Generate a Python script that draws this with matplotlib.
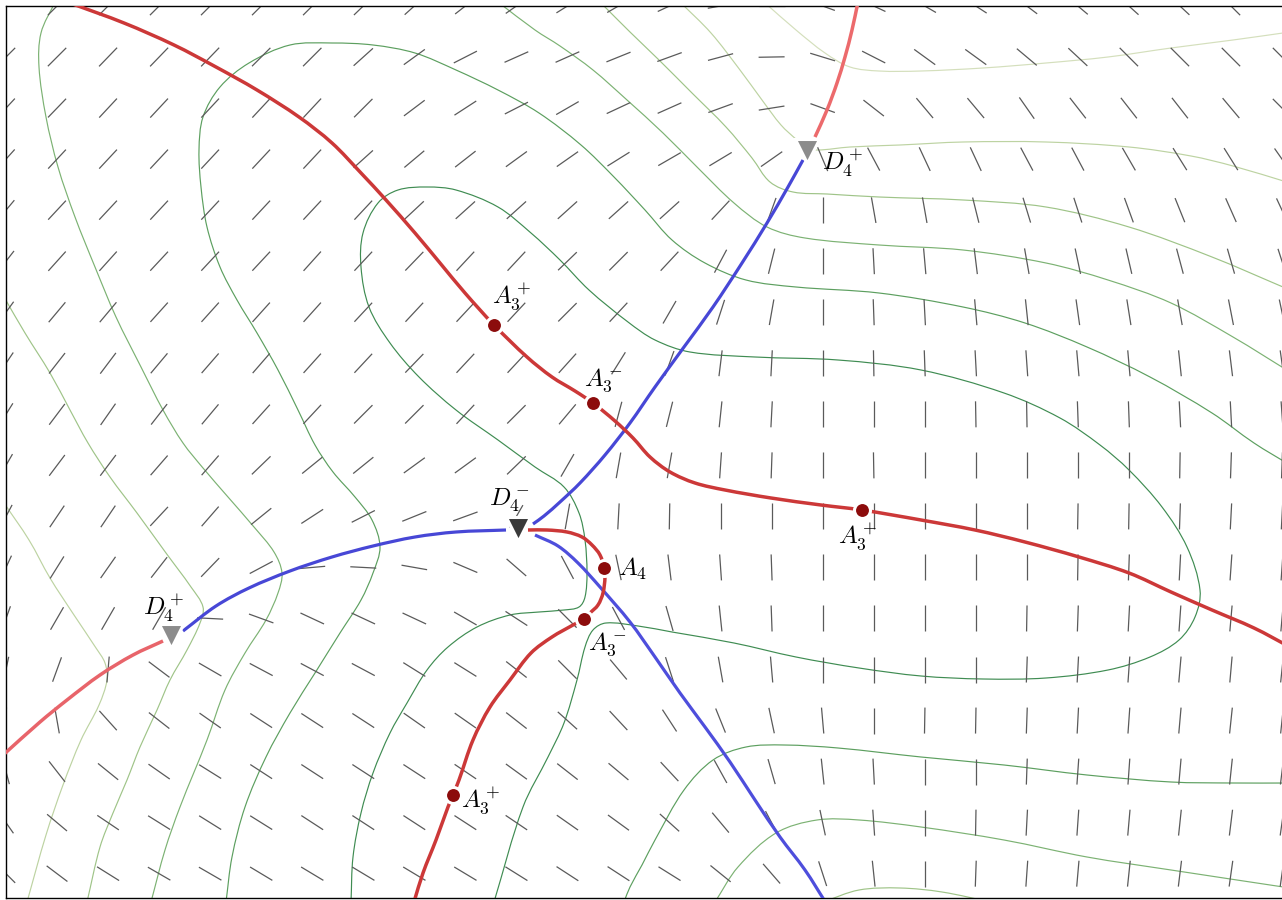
import numpy as np
import matplotlib
matplotlib.use("Agg")
import matplotlib.pyplot as plt
from matplotlib.path import Path
from matplotlib.patches import PathPatch
from matplotlib.collections import LineCollection

plt.rcParams['mathtext.fontset'] = 'cm'

# ---------------- data (plane coordinates, y pointing down) ----------------
field_x0, field_y0, field_step = 6.0, 6.0, 51.04
n_cols, n_rows = 26, 18
# line-field angles in degrees (screen orientation), rows top -> bottom
field_angles = [
    [45, 45, 45, 45, 45, 45, 45, 44, 42, 38, 35, 32, 30, 25, 10, 0, -20, -25, -30, -33, -37, -40, -42, -43, -45, -45],
    [45, 45, 46, 46, 46, 45, 45, 42, 36, 27, 24, 24, 22, 20, 15, 1, -17, -27, -36, -36, -40, -43, -45, -45, -45, -45],
    [47, 46, 47, 47, 47, 47, 47, 45, 37, 33, 27, 30, 25, 24, 20, 9, -20, -38, -50, -50, -55, -52, -52, -52, -50, -45],
    [48, 47, 47, 47, 47, 47, 47, 42, 40, 38, 36, 35, 32, 30, 31, 35, -67, -62, -65, -65, -62, -62, -60, -58, -58, -55],
    [50, 47, 47, 47, 47, 47, 47, 47, 43, 42, 42, 42, 42, 42, 47, 70, 90, -80, -80, -76, -73, -72, -70, -68, -66, -65],
    [52, 48, 48, 47, 47, 47, 48, 47, 46, 47, 47, 44, 45, 47, 62, 76, 90, -87, -85, -83, -80, -78, -77, -75, -74, -72],
    [54, 50, 50, 48, 48, 48, 48, 47, 47, 47, 47, 45, 47, 60, 72, 80, 90, -88, -87, -85, -84, -82, -81, -80, -79, -78],
    [56, 52, 53, 50, 49, 49, 48, 47, 46, 47, 47, 48, 58, 70, 83, 87, 90, -89, -88, -87, -86, -85, -85, -84, -83, -82],
    [58, 53, 55, 52, 50, 48, 47, 45, 45, 47, 45, 50, 75, 76, 84, 87, 90, -90, -90, -89, -89, -88, -88, -87, -87, -86],
    [60, 53, 53, 49, 49, 44, 39, 39, 36, 36, 44, 60, 80, 80, 86, 88, 90, -89, 90, 90, 90, 90, 90, 89, 88, 88],
    [62, 56, 56, 47, 49, 39, 33, 27, 22, 20, 60, 80, 87, 89, 90, 90, 90, 90, 90, 90, 90, 89, 89, 88, 87, 87],
    [65, 58, 55, 52, 46, 28, 5, -3, -10, -23, -41, -62, -78, -83, -86, -88, 90, 90, 90, 90, 90, 89, 88, 87, 86, 86],
    [70, 60, 60, 60, -3, -20, -25, -25, -25, -30, -33, -45, -62, -74, -84, -88, 90, 90, 90, 90, 89, 88, 87, 86, 85, 85],
    [78, 70, 85, -37, -30, -28, -28, -28, -32, -32, -38, -45, -50, -72, -80, -85, 90, 90, 90, 90, 88, 87, 86, 85, 85, 84],
    [88, -80, -48, -38, -35, -33, -33, -33, -35, -35, -38, -42, -47, -57, -68, -78, -85, 90, 89, 89, 88, 87, 86, 85, 84, 84],
    [-75, -52, -39, -35, -32, -33, -33, -33, -33, -34, -36, -38, -40, -47, -61, -74, -84, -87, 90, 90, 88, 86, 86, 85, 84, 83],
    [-55, -40, -34, -32, -32, -32, -33, -33, -33, -33, -34, -35, -36, -42, -50, -62, -78, -86, 90, 89, 87, 86, 85, 84, 83, 82],
    [-45, -37, -32, -30, -30, -31, -31, -31, -31, -31, -32, -33, -33, -32, -39, -49, -72, -84, 90, 88, 86, 85, 84, 83, 82, 82],
]

# level curves (x list, y list, level index 0 = darkest)
cont_f_x = [494, 523, 548, 564, 577, 585, 593, 606, 638, 672, 734, 796, 859, 921, 983, 1046, 1108, 1150, 1179, 1195, 1200, 1187, 1162, 1129, 1100, 1060, 1004, 921, 838, 755, 690, 655, 628, 589, 560, 531, 498, 456, 427, 398, 378, 363, 361, 369, 390, 419, 456, 498, 535, 564, 579, 585, 587, 585, 579, 564, 539, 510, 477, 448, 427, 407, 390, 373, 361, 353, 351]
cont_f_y = [902, 807, 757, 723, 680, 647, 630, 623, 626, 632, 643, 657, 668, 676, 679, 678, 670, 657, 640, 617, 590, 547, 507, 470, 445, 418, 393, 370, 360, 357, 352, 340, 322, 290, 260, 233, 207, 190, 187, 190, 203, 233, 267, 307, 343, 377, 410, 440, 467, 487, 513, 540, 573, 597, 607, 610, 612, 615, 627, 647, 670, 703, 733, 773, 813, 857, 902]
cont_e_x = [226, 232, 245, 266, 290, 315, 340, 361, 373, 380, 372, 355, 333, 315, 298, 278, 257, 237, 220, 207, 201, 199, 203, 220, 249, 290, 332, 373, 415, 456, 498, 539, 581, 614, 645, 672, 705, 746, 796, 879, 963, 1025, 1087, 1150, 1212, 1254, 1290]
cont_e_y = [902, 857, 807, 757, 713, 673, 633, 600, 573, 547, 520, 497, 472, 445, 410, 370, 333, 300, 267, 227, 187, 150, 117, 87, 63, 45, 43, 45, 53, 70, 90, 113, 145, 177, 210, 240, 263, 280, 287, 293, 307, 323, 347, 377, 413, 443, 465]
cont_d_x = [498, 535, 560, 593, 627, 663, 697, 734, 767, 805, 879, 963, 1046, 1108, 1171, 1233, 1290]
cont_d_y = [2, 30, 46, 70, 100, 133, 167, 203, 227, 238, 245, 250, 263, 280, 303, 337, 372]
cont_c_x = [600, 630, 659, 692, 726, 752, 770, 793, 827, 879, 963, 1046, 1129, 1212, 1290]
cont_c_y = [2, 32, 60, 93, 127, 158, 182, 192, 194, 197, 200, 207, 227, 257, 290]
cont_b_x = [680, 711, 740, 762, 781, 797, 806, 817, 850, 900, 963, 1046, 1129, 1191, 1233, 1290]
cont_b_y = [2, 33, 70, 100, 125, 140, 147, 150, 147, 145, 142, 142, 147, 156, 166, 183]
cont_a_x = [764, 796, 825, 850, 879, 921, 983, 1046, 1108, 1171, 1233, 1290]
cont_a_y = [2, 30, 53, 67, 71, 71, 68, 63, 57, 48, 40, 32]
cont_l1_x = [55, 41, 39, 46, 58, 75, 95, 116, 141, 163, 183, 203, 228, 254, 274, 282, 278, 266, 245, 225, 207, 180, 165, 151]
cont_l1_y = [2, 33, 67, 117, 167, 217, 267, 317, 367, 410, 443, 468, 497, 527, 552, 573, 593, 620, 653, 690, 740, 807, 850, 902]
cont_l2_x = [4, 25, 50, 70, 88, 110, 137, 166, 191, 203, 200, 187, 170, 157, 140, 127, 113, 100, 87]
cont_l2_y = [297, 333, 373, 410, 443, 477, 513, 553, 587, 607, 623, 650, 680, 710, 747, 780, 813, 847, 902]
cont_l3_x = [4, 29, 50, 74, 96, 105, 107, 99, 81, 63, 46, 27]
cont_l3_y = [503, 540, 578, 615, 648, 663, 680, 705, 740, 785, 835, 902]
cont_g_x = [624, 630, 642, 655, 684, 713, 746, 784, 838, 921, 1004, 1087, 1171, 1233, 1290]
cont_g_y = [902, 887, 865, 840, 790, 760, 747, 745, 748, 757, 765, 775, 782, 783, 783]
cont_h_x = [715, 738, 776, 817, 859, 921, 1004, 1087, 1171, 1290]
cont_h_y = [902, 867, 833, 820, 820, 827, 840, 857, 870, 888]
cont_i_x = [823, 859, 900, 942, 995]
cont_i_y = [902, 890, 888, 892, 903]
contours = [(cont_f_x, cont_f_y, 0), (cont_e_x, cont_e_y, 1), (cont_g_x, cont_g_y, 1),
            (cont_d_x, cont_d_y, 2), (cont_l1_x, cont_l1_y, 2), (cont_h_x, cont_h_y, 2),
            (cont_c_x, cont_c_y, 3), (cont_l2_x, cont_l2_y, 3), (cont_i_x, cont_i_y, 3),
            (cont_b_x, cont_b_y, 4), (cont_l3_x, cont_l3_y, 4), (cont_a_x, cont_a_y, 5)]
level_colors = ['#3f8c52', '#5c9f5f', '#7cb273', '#9fc488', '#bdd3a2', '#d4dfbc']

# ridge (red) and sub-parabolic (blue) curves
ridge1_x = [70, 124, 174, 216, 257, 299, 332, 361, 386, 415, 440, 465, 494, 527, 552, 575, 593, 615, 633, 650, 670, 695, 725, 771, 821, 862, 921, 975, 1025, 1079, 1129, 1171, 1212, 1254, 1290]
ridge1_y = [3, 23, 45, 67, 90, 117, 143, 173, 200, 233, 263, 293, 325, 357, 377, 391, 403, 421, 438, 457, 472, 483, 490, 498, 505, 510, 520, 530, 542, 557, 573, 592, 610, 628, 647]
ridge2_x = [528, 547, 567, 582, 592, 600, 604, 605, 603, 598, 590, 584, 573, 552, 531, 510, 490, 473, 459, 453, 448, 436, 423, 414]
ridge2_y = [530, 530, 532, 537, 545, 555, 568, 577, 593, 605, 613, 619, 625, 637, 653, 680, 707, 740, 780, 795, 807, 840, 873, 902]
ridge3_x = [163, 133, 100, 67, 40, 2]
ridge3_y = [641, 655, 675, 700, 722, 756]
ridge4_x = [815, 827, 837, 845, 852, 858]
ridge4_y = [137, 110, 83, 57, 30, 2]
sub1_x = [803, 788, 767, 742, 713, 684, 655, 630, 605, 580, 560, 544, 533]
sub1_y = [160, 187, 223, 263, 307, 347, 387, 423, 455, 483, 502, 516, 524]
sub2_x = [506, 456, 415, 373, 332, 290, 249, 216, 183]
sub2_y = [530, 532, 537, 546, 557, 571, 588, 606, 631]
sub3_x = [535, 558, 578, 600, 630, 655, 680, 705, 730, 755, 780, 805, 826]
sub3_y = [535, 546, 563, 587, 622, 657, 693, 727, 762, 800, 837, 870, 903]

# singular points
a_pts_x = [494, 593, 862, 604, 584, 453]
a_pts_y = [325, 403, 510, 568, 619, 795]
a_labels = ['$A_3^+$', '$A_3^-$', '$A_3^+$', '$A_4$', '$A_3^-$', '$A_3^+$']
a_label_x = [512, 603, 858, 633, 607, 481]
a_label_y = [297, 380, 537, 569, 644, 801]
d_pts_x = [518, 807, 171]
d_pts_y = [529, 151, 636]
d_labels = ['$D_4^-$', '$D_4^+$', '$D_4^+$']
d_colors = ['#3a3a3a', '#8c8c8c', '#8c8c8c']
d_label_x = [509, 843, 164]
d_label_y = [500, 163, 608]


def smooth_path(xs, ys):
    p = np.column_stack([xs, ys]).astype(float)
    n = len(p)
    tang = np.zeros_like(p)
    for k in range(n):
        a = p[k - 1] if k > 0 else p[k]
        b = p[k + 1] if k < n - 1 else p[k]
        d = b - a
        tang[k] = d / (np.hypot(*d) + 1e-12)
    verts = [p[0]]
    codes = [Path.MOVETO]
    for i in range(n - 1):
        L = np.hypot(*(p[i + 1] - p[i]))
        c1 = p[i] + tang[i] * L / 3.0
        c2 = p[i + 1] - tang[i + 1] * L / 3.0
        verts += [c1, c2, p[i + 1]]
        codes += [Path.CURVE4] * 3
    return Path(np.array(verts), codes)


def draw_curve(ax, xs, ys, color, lw, z):
    patch = PathPatch(smooth_path(xs, ys), fill=False, edgecolor=color, lw=lw,
                      zorder=z, capstyle='butt', joinstyle='round')
    ax.add_patch(patch)


fig = plt.figure(figsize=(12.82, 9.0), dpi=100)
ax = fig.add_axes([6 / 1282, 2 / 900, 1276 / 1282, 892 / 900])
ax.set_xlim(6, 1282)
ax.set_ylim(898, 6)
ax.set_xticks([])
ax.set_yticks([])
for s in ax.spines.values():
    s.set_linewidth(1.0)
    s.set_color('black')
ax.spines['right'].set_visible(False)

# level curves
for xs, ys, lev in contours:
    draw_curve(ax, xs, ys, level_colors[lev], 0.85, 1)

# line field
fx = field_x0 + field_step * np.arange(n_cols)
fy = field_y0 + field_step * np.arange(n_rows)
half = 13.0
segs = []
for j, row in enumerate(field_angles):
    for i, a in enumerate(row):
        t = np.deg2rad(a)
        dx, dy = half * np.cos(t), half * np.sin(t)
        segs.append([(fx[i] - dx, fy[j] + dy), (fx[i] + dx, fy[j] - dy)])
ax.add_collection(LineCollection(segs, colors='#5a5a5a', linewidths=0.9, zorder=2))

# curves
blue = '#4747d6'
draw_curve(ax, sub1_x, sub1_y, blue, 2.3, 3)
draw_curve(ax, sub2_x, sub2_y, blue, 2.3, 3)
draw_curve(ax, sub3_x, sub3_y, '#4e4edc', 2.3, 3)
red = '#cc3838'
draw_curve(ax, ridge1_x, ridge1_y, red, 2.5, 3.1)
draw_curve(ax, ridge2_x, ridge2_y, red, 2.5, 3.1)
draw_curve(ax, ridge3_x, ridge3_y, '#e8646a', 2.5, 3.1)
draw_curve(ax, ridge4_x, ridge4_y, '#ec6a6c', 2.5, 3.1)

# singular points
ax.plot(a_pts_x, a_pts_y, 'o', ms=11.5, mfc='#8c0c0c', mec='white', mew=2.2,
        zorder=5, linestyle='none')
for x, y, c in zip(d_pts_x, d_pts_y, d_colors):
    ax.plot([x], [y], 'v', ms=17, mfc=c, mec='white', mew=2.2, zorder=5)

for x, y, t in zip(a_label_x, a_label_y, a_labels):
    ax.text(x, y, t, fontsize=18, ha='center', va='center', zorder=6)
for x, y, t in zip(d_label_x, d_label_y, d_labels):
    ax.text(x, y, t, fontsize=18, ha='center', va='center', zorder=6)

fig.savefig('out.png', dpi=100)
